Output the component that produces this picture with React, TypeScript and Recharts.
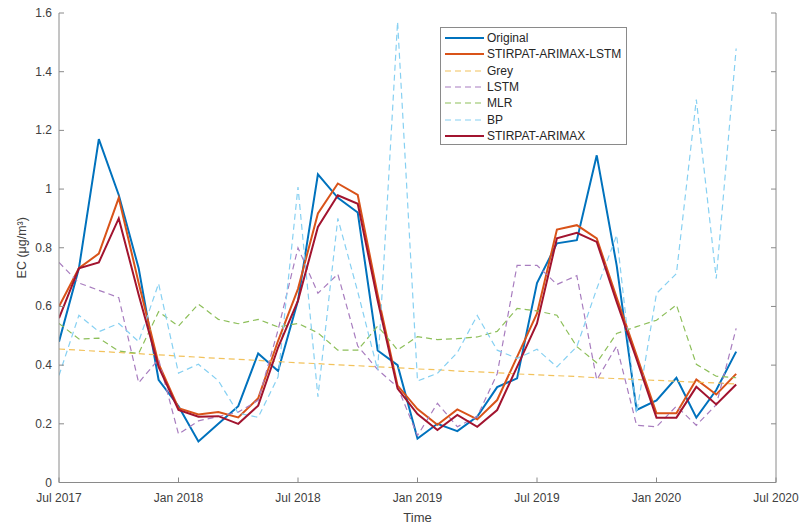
import React from 'react'
import { LineChart, Line, XAxis, YAxis, Legend, Label } from 'recharts'

// monthly points, Jul 2017 .. May 2020
const MONTHS = [
  'Jul 2017', 'Aug 2017', 'Sep 2017', 'Oct 2017', 'Nov 2017', 'Dec 2017',
  'Jan 2018', 'Feb 2018', 'Mar 2018', 'Apr 2018', 'May 2018', 'Jun 2018',
  'Jul 2018', 'Aug 2018', 'Sep 2018', 'Oct 2018', 'Nov 2018', 'Dec 2018',
  'Jan 2019', 'Feb 2019', 'Mar 2019', 'Apr 2019', 'May 2019', 'Jun 2019',
  'Jul 2019', 'Aug 2019', 'Sep 2019', 'Oct 2019', 'Nov 2019', 'Dec 2019',
  'Jan 2020', 'Feb 2020', 'Mar 2020', 'Apr 2020', 'May 2020',
]

const X_TICKS = [0, 6, 12, 18, 24, 30, 36]
const X_TICK_LABELS = ['Jul 2017', 'Jan 2018', 'Jul 2018', 'Jan 2019', 'Jul 2019', 'Jan 2020', 'Jul 2020']
const Y_TICKS = [0, 0.2, 0.4, 0.6, 0.8, 1, 1.2, 1.4, 1.6]

const ORIGINAL = [
  0.48, 0.73, 1.17, 0.98, 0.73, 0.35, 0.26, 0.14, 0.2, 0.26, 0.44, 0.38,
  0.62, 1.05, 0.97, 0.92, 0.45, 0.4, 0.15, 0.2, 0.175, 0.225, 0.325, 0.355,
  0.68, 0.815, 0.826, 1.115, 0.74, 0.247, 0.28, 0.357, 0.221, 0.315, 0.446,
]
const HYBRID = [
  0.6, 0.73, 0.78, 0.97, 0.68, 0.405, 0.253, 0.232, 0.24, 0.222, 0.287, 0.483,
  0.66, 0.917, 1.019, 0.98, 0.64, 0.33, 0.25, 0.197, 0.249, 0.215, 0.281, 0.428,
  0.576, 0.862, 0.877, 0.832, 0.63, 0.433, 0.236, 0.236, 0.351, 0.3, 0.37,
]
const GREY = [
  0.455, 0.451, 0.447, 0.443, 0.439, 0.435, 0.431, 0.427, 0.423, 0.42, 0.416, 0.412,
  0.408, 0.405, 0.401, 0.398, 0.394, 0.391, 0.387, 0.384, 0.38, 0.377, 0.374, 0.37,
  0.367, 0.364, 0.361, 0.357, 0.354, 0.351, 0.348, 0.345, 0.342, 0.339, 0.336,
]
const LSTM = [
  0.75, 0.68, 0.655, 0.63, 0.34, 0.42, 0.165, 0.21, 0.225, 0.24, 0.28, 0.52,
  0.8, 0.645, 0.71, 0.465, 0.385, 0.325, 0.16, 0.27, 0.19, 0.225, 0.37, 0.74,
  0.74, 0.675, 0.705, 0.35, 0.465, 0.195, 0.19, 0.26, 0.195, 0.265, 0.525,
]
const MLR = [
  0.542, 0.489, 0.492, 0.448, 0.44, 0.582, 0.533, 0.608, 0.556, 0.541, 0.556, 0.53,
  0.542, 0.51, 0.451, 0.451, 0.533, 0.452, 0.497, 0.487, 0.49, 0.496, 0.515, 0.593,
  0.585, 0.57, 0.463, 0.408, 0.508, 0.531, 0.553, 0.605, 0.403, 0.362, 0.357,
]
const BP = [
  0.365, 0.57, 0.514, 0.542, 0.48, 0.678, 0.373, 0.403, 0.347, 0.236, 0.222, 0.36,
  1.007, 0.292, 0.9, 0.65, 0.383, 1.57, 0.346, 0.372, 0.443, 0.569, 0.451, 0.423,
  0.454, 0.394, 0.463, 0.66, 0.843, 0.236, 0.644, 0.712, 1.305, 0.695, 1.479,
]
const ARIMAX = [
  0.56, 0.73, 0.75, 0.9, 0.64, 0.394, 0.247, 0.224, 0.226, 0.2, 0.262, 0.46,
  0.62, 0.871, 0.979, 0.95, 0.62, 0.32, 0.233, 0.179, 0.23, 0.19, 0.247, 0.394,
  0.542, 0.832, 0.851, 0.82, 0.615, 0.42, 0.221, 0.221, 0.326, 0.266, 0.334,
]

const data = MONTHS.map((month, i) => ({
  m: i,
  month,
  original: ORIGINAL[i],
  hybrid: HYBRID[i],
  grey: GREY[i],
  lstm: LSTM[i],
  mlr: MLR[i],
  bp: BP[i],
  arimax: ARIMAX[i],
}))

const SERIES = [
  { key: 'original', name: 'Original', color: '#0072BD', width: 2, dash: undefined },
  { key: 'hybrid', name: 'STIRPAT-ARIMAX-LSTM', color: '#D95319', width: 2, dash: undefined },
  { key: 'grey', name: 'Grey', color: '#F2C25C', width: 1.2, dash: '6 4' },
  { key: 'lstm', name: 'LSTM', color: '#A87DBF', width: 1.2, dash: '6 4' },
  { key: 'mlr', name: 'MLR', color: '#8DBF5A', width: 1.2, dash: '6 4' },
  { key: 'bp', name: 'BP', color: '#86D0F2', width: 1.2, dash: '6 4' },
  { key: 'arimax', name: 'STIRPAT-ARIMAX', color: '#A2142F', width: 2, dash: undefined },
]

const FONT = '"Liberation Sans", Arial, Helvetica, sans-serif'
const AXIS = '#8a8a8a'
const TEXT = '#404040'

const BottomTick = (props: any) => {
  const { x, y, payload } = props
  const idx = X_TICKS.indexOf(payload.value)
  return (
    <g>
      <line x1={x} x2={x} y1={y} y2={y - 5} stroke={AXIS} />
      <text x={x} y={y + 19} textAnchor="middle" fill={TEXT} fontSize={12} fontFamily={FONT}>
        {X_TICK_LABELS[idx]}
      </text>
    </g>
  )
}

const TopTick = (props: any) => {
  const { x, y } = props
  return <line x1={x} x2={x} y1={y} y2={y + 5} stroke={AXIS} />
}

const LeftTick = (props: any) => {
  const { x, y, payload } = props
  const v = Number(payload.value.toFixed(1))
  return (
    <g>
      <line x1={x} x2={x + 5} y1={y} y2={y} stroke={AXIS} />
      <text x={x - 7} y={y + 4} textAnchor="end" fill={TEXT} fontSize={12} fontFamily={FONT}>
        {String(v)}
      </text>
    </g>
  )
}

const RightTick = (props: any) => {
  const { x, y } = props
  return <line x1={x} x2={x - 5} y1={y} y2={y} stroke={AXIS} />
}

const LegendBox = () => (
  <div
    style={{
      width: 187,
      height: 118,
      boxSizing: 'border-box',
      border: `1px solid ${AXIS}`,
      background: '#fff',
      padding: '2px 0 0 4px',
      fontFamily: FONT,
      fontSize: 12,
      color: '#262626',
    }}
  >
    {SERIES.map(s => (
      <div key={s.key} style={{ display: 'flex', alignItems: 'center', height: 16.33 }}>
        <svg width={39} height={6}>
          <line x1={0} x2={39} y1={3} y2={3} stroke={s.color} strokeWidth={s.width} strokeDasharray={s.dash} />
        </svg>
        <span style={{ marginLeft: 3, lineHeight: '16px' }}>{s.name}</span>
      </div>
    ))}
  </div>
)

export default function App() {
  return (
    <div style={{ position: 'absolute', left: 0, top: 0, width: 803, height: 524, background: '#fff' }}>
      <LineChart width={803} height={524} data={data} margin={{ top: 13, right: 26, bottom: 0, left: 0 }}>
        <XAxis
          dataKey="m"
          type="number"
          domain={[0, 36]}
          ticks={X_TICKS}
          interval={0}
          height={41.5}
          tickSize={0}
          tickMargin={0}
          tickLine={false}
          stroke={AXIS}
          tick={BottomTick}
          allowDataOverflow
        >
          <Label
            content={(p: any) => {
              const vb = p.viewBox
              return (
                <text x={vb.x + vb.width / 2} y={vb.y + 39} textAnchor="middle" fill={TEXT} fontSize={13} fontFamily={FONT}>
                  Time
                </text>
              )
            }}
          />
        </XAxis>
        <XAxis
          xAxisId="t"
          dataKey="m"
          type="number"
          orientation="top"
          domain={[0, 36]}
          ticks={X_TICKS}
          interval={0}
          height={0}
          tickSize={0}
          tickMargin={0}
          tickLine={false}
          stroke={AXIS}
          tick={TopTick}
          allowDataOverflow
        />
        <YAxis
          type="number"
          domain={[0, 1.6]}
          ticks={Y_TICKS}
          interval={0}
          width={59}
          tickSize={0}
          tickMargin={0}
          tickLine={false}
          stroke={AXIS}
          tick={LeftTick}
          allowDataOverflow
        >
          <Label
            content={(p: any) => {
              const vb = p.viewBox
              const cx = vb.x + 22
              const cy = vb.y + vb.height / 2
              return (
                <text
                  x={cx}
                  y={cy}
                  transform={`rotate(-90 ${cx} ${cy})`}
                  textAnchor="middle"
                  dominantBaseline="central"
                  fill={TEXT}
                  fontSize={12.5}
                  fontFamily={FONT}
                >
                  EC (μg/m³)
                </text>
              )
            }}
          />
        </YAxis>
        <YAxis
          yAxisId="r"
          type="number"
          orientation="right"
          domain={[0, 1.6]}
          ticks={Y_TICKS}
          interval={0}
          width={1}
          tickSize={0}
          tickMargin={0}
          tickLine={false}
          stroke={AXIS}
          tick={RightTick}
          allowDataOverflow
        />
        <Legend
          layout="vertical"
          align="center"
          verticalAlign="middle"
          content={LegendBox}
          wrapperStyle={{ position: 'absolute', left: 440, top: 27, width: 187, height: 118 }}
        />
        {/* invisible series so the top and right box axes get drawn */}
        <Line
          xAxisId="t"
          yAxisId="r"
          dataKey="original"
          stroke="none"
          dot={false}
          activeDot={false}
          legendType="none"
          isAnimationActive={false}
        />
        {SERIES.map(s => (
          <Line
            key={s.key}
            dataKey={s.key}
            name={s.name}
            type="linear"
            stroke={s.color}
            strokeWidth={s.width}
            strokeDasharray={s.dash}
            dot={false}
            activeDot={false}
            isAnimationActive={false}
          />
        ))}
      </LineChart>
    </div>
  )
}
